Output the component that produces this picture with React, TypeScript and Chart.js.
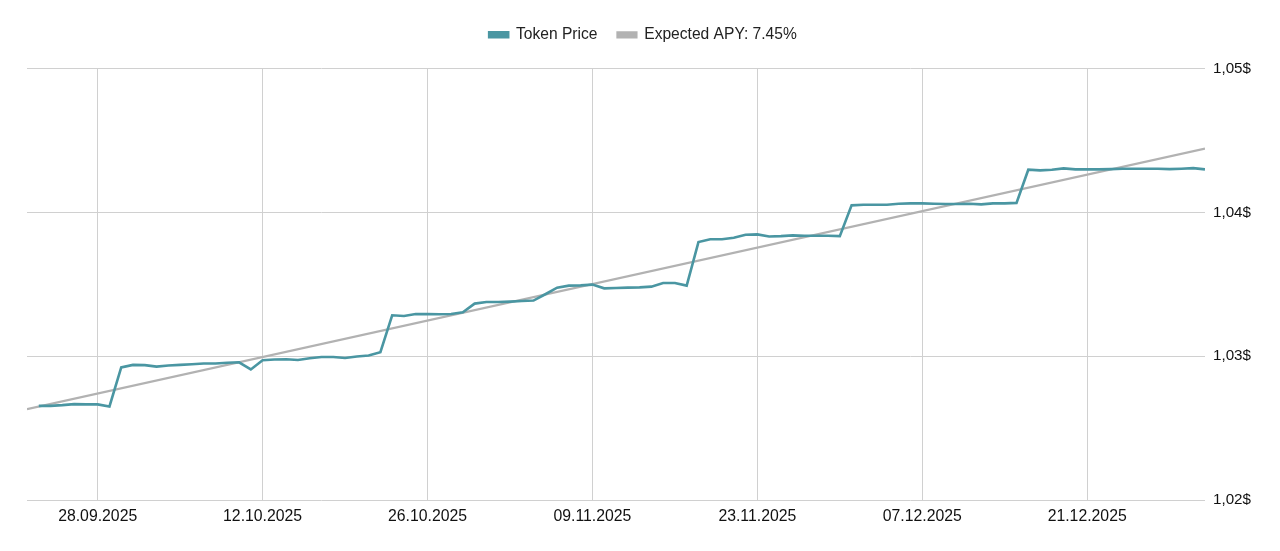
import React, { useEffect, useRef } from 'react';
import { Chart, registerables } from 'chart.js';

Chart.register(...registerables);

// Day 0 of the axis (left edge of the plot)
const axisStartDate = '22.09.2025';
const axisEndDate = '31.12.2025';
// First token price sample date; one sample per day afterwards
const priceStartDate = '23.09.2025';

const tokenPrice: number[] = [
  1.02655, 1.02655, 1.0266, 1.02667, 1.02665, 1.02665, 1.02651, 1.02922, 1.0294, 1.02938,
  1.02928, 1.02935, 1.0294, 1.02944, 1.02949, 1.02949, 1.02955, 1.02958, 1.02908, 1.02972,
  1.02977, 1.02979, 1.02974, 1.02986, 1.02995, 1.02995, 1.02988, 1.02998, 1.03005, 1.03028,
  1.03285, 1.0328, 1.03293, 1.03294, 1.03292, 1.03294, 1.03306, 1.03366, 1.03377, 1.03377,
  1.0338, 1.03384, 1.03387, 1.03431, 1.03477, 1.03491, 1.03493, 1.03498, 1.03472, 1.03474,
  1.03477, 1.03479, 1.03484, 1.03509, 1.03509, 1.03491, 1.03794, 1.03813, 1.03813, 1.03824,
  1.03845, 1.03847, 1.03833, 1.03835, 1.0384, 1.03838, 1.03838, 1.03838, 1.03835, 1.04049,
  1.04053, 1.04053, 1.04053, 1.0406, 1.04063, 1.04063, 1.0406, 1.04058, 1.04058, 1.0406,
  1.04056, 1.04063, 1.04063, 1.04066, 1.04297, 1.04292, 1.04297, 1.04306, 1.04299, 1.04299,
  1.04299, 1.04301, 1.04304, 1.04304, 1.04304, 1.04304, 1.04301, 1.04304, 1.04308, 1.04299,
];

const expectedDates = ['22.09.2025', '31.12.2025'];
const expectedValues = [1.02632, 1.04444];

const xTickLabels = [
  '28.09.2025', '12.10.2025', '26.10.2025', '09.11.2025', '23.11.2025', '07.12.2025', '21.12.2025',
];

const yMin = 1.02;
const yMax = 1.05;
const yStep = 0.01;

const seriesNames = ['Token Price', 'Expected APY: 7.45%'];

const DAY = 86400000;
function parseDate(s: string): number {
  const [d, m, y] = s.split('.').map(Number);
  return Date.UTC(y, m - 1, d);
}
const t0 = parseDate(axisStartDate);
const toDay = (s: string) => Math.round((parseDate(s) - t0) / DAY);

const FONT = "'Liberation Sans', Arial, Helvetica, sans-serif";

export default function App() {
  const ref = useRef<HTMLCanvasElement>(null);

  useEffect(() => {
    document.body.style.margin = '0';
    const canvas = ref.current;
    if (!canvas) return;

    const priceStart = toDay(priceStartDate);
    const priceData = tokenPrice.map((v, i) => ({ x: priceStart + i, y: v }));
    const expectedData = expectedDates.map((d, i) => ({ x: toDay(d), y: expectedValues[i] }));
    const tickDays = xTickLabels.map(toDay);
    const labelByDay = new Map<number, string>();
    tickDays.forEach((d, i) => labelByDay.set(d, xTickLabels[i]));

    const legendSpacing = {
      id: 'legendSpacing',
      beforeInit(chart: any) {
        const origFit = chart.legend.fit;
        chart.legend.fit = function fit() {
          origFit.bind(chart.legend)();
          this.height += 16;
        };
      },
    };

    const chart = new Chart(canvas, {
      type: 'line',
      data: {
        datasets: [
          {
            label: seriesNames[0],
            data: priceData,
            borderColor: 'rgb(74,150,162)',
            backgroundColor: 'rgb(74,150,162)',
            borderWidth: 2.6,
            pointRadius: 0,
            tension: 0,
            order: 0,
          },
          {
            label: seriesNames[1],
            data: expectedData,
            borderColor: 'rgb(178,178,178)',
            backgroundColor: 'rgb(178,178,178)',
            borderWidth: 2.2,
            pointRadius: 0,
            tension: 0,
            order: 1,
          },
        ],
      },
      options: {
        animation: false,
        responsive: true,
        maintainAspectRatio: false,
        layout: { padding: { left: 27, right: 21, top: 7, bottom: 18 } },
        plugins: {
          legend: {
            position: 'top',
            labels: {
              boxWidth: 19,
              boxHeight: 5,
              padding: 20,
              color: '#222',
              font: { family: FONT, size: 15.6 },
            },
          },
          tooltip: { enabled: false },
        },
        scales: {
          x: {
            type: 'linear',
            min: toDay(axisStartDate),
            max: toDay(axisEndDate),
            afterBuildTicks(axis: any) {
              axis.ticks = tickDays.map((v) => ({ value: v }));
            },
            ticks: {
              autoSkip: false,
              maxRotation: 0,
              padding: 7,
              color: '#111',
              font: { family: FONT, size: 15.8 },
              callback: (v: any) => labelByDay.get(Number(v)) ?? '',
            },
            grid: { color: '#d0d0d0', lineWidth: 1, drawTicks: false },
            border: { display: false },
          },
          y: {
            position: 'right',
            min: yMin,
            max: yMax,
            ticks: {
              stepSize: yStep,
              padding: 8,
              color: '#111',
              font: { family: FONT, size: 15.2 },
              callback: (v: any) => Number(v).toFixed(2).replace('.', ',') + '$',
            },
            grid: { color: '#d0d0d0', lineWidth: 1, drawTicks: false },
            border: { display: false },
          },
        },
      },
      plugins: [legendSpacing],
    });

    return () => chart.destroy();
  }, []);

  return (
    <div style={{ position: 'relative', width: 1280, height: 551 }}>
      <canvas ref={ref} />
    </div>
  );
}
